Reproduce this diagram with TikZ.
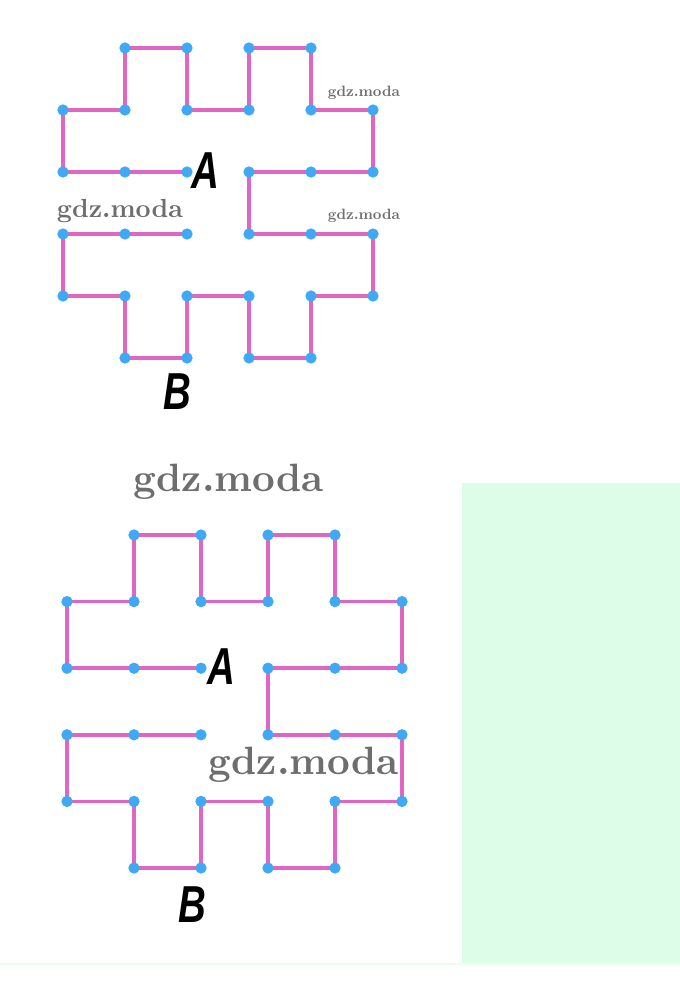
\documentclass[tikz,border=0pt]{standalone}
\usepackage{fontspec}
\setsansfont{Liberation Sans}
\usetikzlibrary{backgrounds}
\definecolor{edgepink}{HTML}{E066C2}
\definecolor{dotblue}{HTML}{3FA9F5}
\definecolor{panelgreen}{HTML}{DDFDE9}
\definecolor{wmgray}{HTML}{6E6E6E}
\tikzset{
  edge/.style={draw=edgepink,line width=2.6pt,line join=miter},
  dot/.style={circle,fill=dotblue,inner sep=0pt,minimum size=8.5pt},
  letter/.style={font=\sffamily\bfseries\itshape\fontsize{39}{39}\selectfont,inner sep=0pt,xscale=0.74},
  wm/.style={text=wmgray,inner sep=0pt,font=\rmfamily\bfseries},
}
\newcommand{\mkfig}[5]{% prefix, x0, dx, y0, dy
  \foreach \i in {0,...,5}{\foreach \j in {0,...,5}{
    \coordinate (#1-\i-\j) at ({#2+\i*#3},{#4+\j*#5});
  }}
  \draw[edge] (#1-2-3)--(#1-0-3)--(#1-0-4)--(#1-1-4)--(#1-1-5)--(#1-2-5)--(#1-2-4)--(#1-3-4)--(#1-3-5)--(#1-4-5)--(#1-4-4)--(#1-5-4)--(#1-5-3)--(#1-3-3)--(#1-3-2)--(#1-5-2)--(#1-5-1)--(#1-4-1)--(#1-4-0)--(#1-3-0)--(#1-3-1)--(#1-2-1)--(#1-2-0)--(#1-1-0)--(#1-1-1)--(#1-0-1)--(#1-0-2)--(#1-2-2);
  \foreach \i/\j in {1/0,2/0,3/0,4/0,1/5,2/5,3/5,4/5}{\node[dot] (#1d-\i-\j) at (#1-\i-\j) {};}
  \foreach \i in {0,...,5}{\foreach \j in {1,...,4}{\node[dot] (#1d-\i-\j) at (#1-\i-\j) {};}}
}
\begin{document}
\begin{tikzpicture}[x=0.75pt,y=-0.75pt]
\useasboundingbox (0,0) rectangle (680,1001);
\fill[white] (0,0) rectangle (680,1001);
\fill[panelgreen] (462,483) rectangle (680,964);
\draw[panelgreen!70!white,line width=1.2pt] (0,964) -- (680,964);
% watermarks
\node[wm] (w1) at (364,93) {\resizebox{54pt}{!}{gdz.moda}};
\node[wm] (w2) at (364,216) {\resizebox{54pt}{!}{gdz.moda}};
\node[wm] (w3) at (120,211) {\resizebox{94.5pt}{!}{gdz.moda}};
\node[wm] (w4) at (229,482) {\resizebox{142.5pt}{!}{gdz.moda}};
\node[wm] (w5) at (304,765) {\resizebox{142.5pt}{!}{gdz.moda}};
% figures
\mkfig{t}{63}{62}{48}{62}
\mkfig{b}{67}{67}{535}{66.6}
\node[letter] (tA) at (205,171) {A};
\node[letter] (tB) at (177,392) {B};
\node[letter] (bA) at (221,667) {A};
\node[letter] (bB) at (192,905) {B};
\end{tikzpicture}
\end{document}
